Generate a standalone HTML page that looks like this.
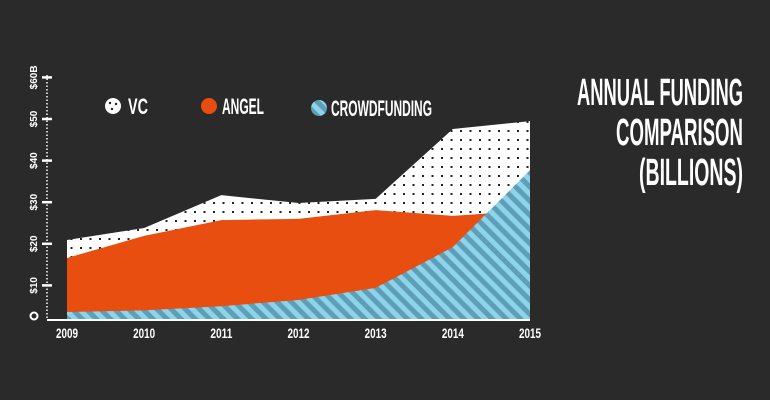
<!DOCTYPE html>
<html><head><meta charset="utf-8"><style>
html,body{margin:0;padding:0;background:#2a2a2a;}
svg{display:block;}
text{font-family:"Liberation Sans Narrow","Liberation Sans",sans-serif;font-weight:bold;fill:#fff;}
</style></head><body>
<svg id="chart" width="770" height="400" viewBox="0 0 770 400" xmlns="http://www.w3.org/2000/svg">
<defs>
<pattern id="dots" width="9.5" height="9" patternUnits="userSpaceOnUse">
<rect width="9.5" height="9" fill="#fff"/><rect x="4" y="4" width="2" height="2" fill="#222"/>
</pattern>
<pattern id="stripes" width="10" height="10" patternUnits="userSpaceOnUse" patternTransform="rotate(-45)">
<rect width="10" height="10" fill="#8dd3ea"/><rect width="5" height="10" fill="#5e9fb7"/>
</pattern>
</defs>
<rect width="770" height="400" fill="#2a2a2a"/>
<g id="title">
<text x="743" y="105" text-anchor="end" font-size="38" textLength="166" lengthAdjust="spacingAndGlyphs">ANNUAL FUNDING</text>
<text x="743" y="145" text-anchor="end" font-size="38" textLength="127" lengthAdjust="spacingAndGlyphs">COMPARISON</text>
<text x="743" y="185" text-anchor="end" font-size="38" textLength="104" lengthAdjust="spacingAndGlyphs">(BILLIONS)</text>
</g>
<g id="legend">
<g>
<circle cx="113" cy="106" r="8" fill="#fff"/><circle cx="110" cy="103" r="1.2" fill="#222"/><circle cx="116" cy="104" r="1.2" fill="#222"/><circle cx="112" cy="109" r="1.2" fill="#222"/>
<text x="128" y="114" font-size="22" textLength="20" lengthAdjust="spacingAndGlyphs">VC</text></g>
<g>
<circle cx="209" cy="106" r="8" fill="#e84e0f"/>
<text x="222" y="114" font-size="22" textLength="42" lengthAdjust="spacingAndGlyphs">ANGEL</text></g>
<g>
<circle cx="319" cy="108" r="8" fill="url(#stripes)"/>
<text x="331" y="116" font-size="22" textLength="101" lengthAdjust="spacingAndGlyphs">CROWDFUNDING</text></g>
</g>
<g id="axes"></g>
<g id="series"></g>
</svg>
<script>
const years = ["2009","2010","2011","2012","2013","2014","2015"];
const vcTotal = [20.9, 23.8, 31.7, 29.8, 30.8, 47.6, 49.5];
const angel = [16.6, 21.9, 25.7, 26.0, 28.1, 26.7, 28.0];
const crowd = [3.6, 4.0, 5.0, 6.5, 9.4, 19.2, 37.7];
const yTicks = [10, 20, 30, 40, 50, 60];
const yTickLabels = ["$10","$20","$30","$40","$50","$60B"];

const NS = "http://www.w3.org/2000/svg";
const x0 = 67, x1 = 530, baseY = 319;
function xs(i){ return x0 + (x1 - x0) * i / (years.length - 1); }
function ys(v){ return 327 - v * 4.16; }
function mk(tag, attrs, parent){ const e = document.createElementNS(NS, tag); for (const k in attrs) e.setAttribute(k, attrs[k]); parent.appendChild(e); return e; }

const series = document.getElementById('series');
function area(vals, fill, name){
  let d = "M" + xs(0) + "," + baseY;
  vals.forEach((v,i)=>{ d += " L" + xs(i) + "," + ys(v); });
  d += " L" + xs(vals.length-1) + "," + baseY + " Z";
  const p = mk('path', {d: d, fill: fill}, series);
  
  
}
area(vcTotal, "url(#dots)", "area-vc");
area(angel, "#e84e0f", "area-angel");
area(crowd, "url(#stripes)", "area-crowdfunding");

const axes = document.getElementById('axes');
const yAxis = mk('line', {x1: 47, y1: 75, x2: 47, y2: baseY, stroke: "#fff", "stroke-width": 1.5, "stroke-dasharray": "1.5,2"}, axes);


const xAxis = mk('line', {x1: 47, y1: baseY + 1, x2: x1, y2: baseY + 1, stroke: "#fff", "stroke-width": 2}, axes);


const zero = mk('circle', {cx: 34, cy: 316, r: 3.5, fill: "none", stroke: "#fff", "stroke-width": 2}, axes);


yTicks.forEach((v,i)=>{
  const y = ys(v);
  const t = mk('line', {x1: 42, y1: y, x2: 52, y2: y, stroke: "#fff", "stroke-width": 2.5}, axes);
  
  
  const l = mk('text', {x: 0, y: 0, "font-size": 10, "text-anchor": "middle", transform: "translate(37," + y + ") rotate(-90)", "font-family": "Liberation Mono, monospace"}, axes);
  l.textContent = yTickLabels[i];
  
  
});
years.forEach((yr,i)=>{
  const l = mk('text', {x: xs(i), y: 338, "font-size": 14, "text-anchor": "middle", textLength: 22, lengthAdjust: "spacingAndGlyphs"}, axes);
  l.textContent = yr;
  
  
});
</script>
</body></html>
